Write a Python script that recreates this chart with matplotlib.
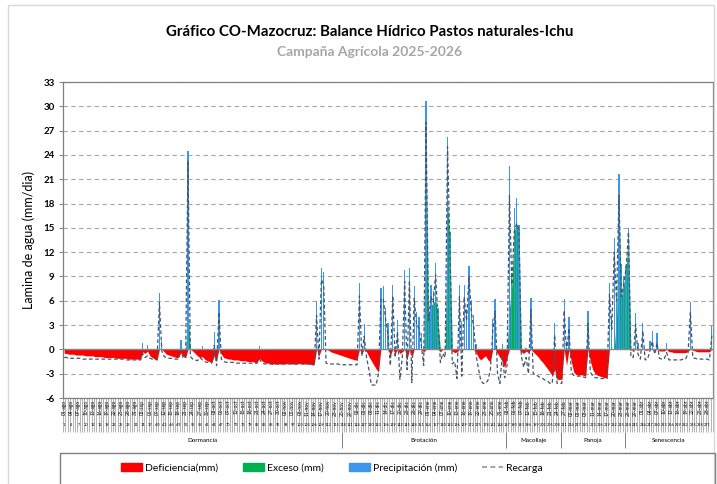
import numpy as np
import pandas as pd
import matplotlib
matplotlib.use('Agg')
import matplotlib.pyplot as plt
from matplotlib.patches import Patch, Rectangle
from matplotlib.lines import Line2D

plt.rcParams['font.family'] = ['Lato', 'DejaVu Sans']

# daily values, season 01-ago-2025 .. 30-abr-2026 (mm/dia)
precip_ago = [0] * 31
precip_sep = [0, 0, 0.8, 0, 0.5, 0, 0, 0, 0, 7.0, 1.0, 0, 0, 0, 0, 0, 0, 0, 1.2, 0,
              0, 24.5, 0, 0, 0, 0, 0, 0.4, 0, 0]
precip_oct = [0, 0, 2.1, 0, 6.1, 0, 0, 0, 0, 0, 0, 0, 0, 0, 0, 0, 0, 0, 0, 0,
              0, 0.4, 0, 0, 0, 0, 0, 0, 0, 0, 0]
precip_nov = [0, 0, 0, 0, 0, 0, 0, 0, 0, 0, 0, 0, 0, 0, 6.0, 0, 10.0, 9.6, 0, 0,
              0, 0, 0, 0, 0, 0, 0, 0, 0, 0]
precip_dic = [0, 0, 8.2, 0, 3.1, 0, 0, 0, 0, 0, 0, 7.6, 7.8, 5.1, 3.2, 0, 8.0, 0, 3.6, 0,
              0, 9.8, 0, 10.0, 0, 7.8, 4.6, 4.0, 2.0, 0, 30.6]
precip_ene = [5.0, 7.9, 7.2, 10.7, 5.1, 0, 0, 0, 26.2, 14.5, 0, 0, 0, 7.9, 3.5, 8.0, 5.0, 10.3, 6.1, 4.2,
              0.7, 0, 0, 0, 0, 0, 0, 3.7, 6.2, 0, 0]
precip_feb = [0.7, 0, 0, 22.6, 9.0, 17.4, 18.7, 15.3, 0, 0, 0.2, 0, 6.4, 0, 0, 0, 0, 0, 0, 0,
              0, 0, 3.2, 0, 0, 0, 6.2, 1.0]
precip_mar = [4.0, 0, 0, 0, 0, 0, 0, 0, 4.7, 0, 0, 0, 0, 0, 0, 0, 0, 8.2, 4.0, 13.8,
              7.0, 21.6, 10.5, 9.0, 10.3, 15.0, 0, 0, 4.5, 0.8, 0]
precip_abr = [3.3, 0, 0, 1.0, 2.3, 0, 2.0, 0, 0, 0, 0.8, 0, 0, 0, 0, 0, 0, 0, 0, 0,
              5.8, 0, 0, 0, 0, 0, 0, 0, 0, 2.9]

exceso_ago = [0] * 31
exceso_sep = [0] * 21 + [5.3] + [0] * 8
exceso_oct = [0] * 31
exceso_nov = [0] * 30
exceso_dic = [0] * 30 + [25.0]
exceso_ene = [4.5, 5.5, 5.6, 6.5, 3.5, 0, 0, 0, 18.5, 13.5] + [0] * 21
exceso_feb = [0, 0, 0, 5.0, 8.0, 14.5, 15.5, 15.2] + [0] * 20
exceso_mar = [0] * 20 + [4.0, 18.5, 6.5, 8.0, 10.0, 14.5] + [0] * 5
exceso_abr = [0] * 30

defic_ago = [-0.5, -0.5, -0.6, -0.6, -0.6, -0.7, -0.7, -0.7, -0.7, -0.8, -0.8, -0.8, -0.8, -0.9, -0.9, -0.9,
             -0.9, -1.0, -1.0, -1.0, -1.0, -1.0, -1.1, -1.1, -1.1, -1.1, -1.1, -1.2, -1.2, -1.2, -1.2]
defic_sep = [-1.2, -1.3, -0.3, -0.5, -0.2, -0.8, -1.0, -1.2, -1.3, 0, 0, -0.3, -0.6, -0.7, -0.8, -0.9,
             -1.0, -1.0, -0.4, -0.9, -1.0, 0, 0, -0.2, -0.5, -0.8, -1.0, -0.9, -1.2, -1.4]
defic_oct = [-1.5, -1.6, -0.8, -1.3, 0, -0.6, -1.0, -1.1, -1.2, -1.2, -1.3, -1.3, -1.3, -1.4, -1.4, -1.4,
             -1.5, -1.5, -1.5, -1.6, -1.6, -1.1, -1.4, -1.6, -1.7, -1.7, -1.8, -1.8, -1.8, -1.8, -1.8]
defic_nov = [-1.8, -1.8, -1.7, -1.8, -1.8, -1.8, -1.8, -1.7, -1.8, -1.8, -1.8, -1.8, -1.9, -1.8, 0, -0.8,
             0, 0, 0, -0.1, -0.3, -0.4, -0.5, -0.6, -0.7, -0.8, -0.9, -1.0, -1.1, -1.2]
defic_dic = [-1.3, -1.3, 0, -0.5, 0, -0.3, -0.9, -1.4, -1.9, -2.4, -2.8, 0, 0, 0, 0, -0.7,
             0, -0.5, 0, -0.5, -0.3, 0, -1.2, 0, -1.0, 0, 0, 0, 0, -0.3, 0]
defic_ene = [0, 0, 0, 0, 0, -0.3, 0, 0, 0, 0, -0.2, -0.4, -0.3, 0, 0, 0,
             0, 0, 0, 0, -0.4, -1.0, -1.3, -1.0, -0.8, -1.3, -1.5, 0, 0, -0.5, -1.0]
defic_feb = [-1.5, -2.3, -1.0, 0, 0, 0, 0, 0, -0.3, -0.5, -0.2, -0.4, 0, -0.3, -0.6, -0.9,
             -1.3, -1.6, -2.0, -2.4, -2.8, -3.3, -2.5, -3.7, -3.7, -3.7, 0, -2.0]
defic_mar = [0, -1.5, -2.8, -3.1, -3.2, -3.1, -3.2, -3.3, 0, -1.5, -2.5, -3.0, -3.2, -3.3, -3.4, -3.5,
             -3.5, 0, 0, 0, 0, 0, 0, 0, 0, 0, -0.1, -0.1, 0, -0.1, 0]
defic_abr = [0, -0.1, -0.1, 0, 0, -0.1, 0, -0.2, -0.2, -0.2, 0, -0.3, -0.3, -0.4, -0.4, -0.4,
             -0.4, -0.4, -0.4, -0.2, 0, -0.1, -0.2, -0.3, -0.3, -0.3, -0.3, -0.3, -0.3, 0]

recarga_ago = [-1.0, -1.0, -1.1, -1.1, -1.1, -1.1, -1.1, -1.1, -1.2, -1.2, -1.2, -1.2, -1.2, -1.2, -1.2, -1.2,
               -1.2, -1.2, -1.2, -1.2, -1.2, -1.2, -1.2, -1.2, -1.2, -1.2, -1.3, -1.3, -1.3, -1.3, -1.3]
recarga_sep = [-1.3, -1.3, -0.5, -1.0, -0.8, -1.1, -1.2, -1.2, -1.3, 5.8, -0.2, -0.9, -1.0, -1.1, -1.1, -1.2,
               -1.2, -1.2, 0.0, -1.1, -1.0, 23.3, -0.9, -1.2, -1.3, -1.4, -1.0, -1.3, -1.5, -1.6]
recarga_oct = [-1.6, -1.7, 0.5, -2.0, 4.6, -1.2, -1.5, -1.6, -1.6, -1.6, -1.6, -1.7, -1.7, -1.7, -1.7, -1.7,
               -1.7, -1.7, -1.7, -1.7, -1.7, -1.2, -1.6, -1.8, -1.8, -1.8, -1.8, -1.9, -1.8, -1.8, -1.8]
recarga_nov = [-1.8, -1.8, -1.8, -1.8, -1.8, -1.8, -1.8, -1.8, -1.8, -1.8, -1.8, -1.8, -1.9, -1.9, 4.2, -1.2,
               8.6, 8.0, -1.7, -1.8, -1.8, -1.8, -1.8, -1.8, -1.9, -1.9, -1.9, -1.9, -1.9, -1.9]
recarga_dic = [-1.9, -1.9, 6.6, -0.8, 1.6, -1.0, -2.5, -4.4, -4.4, -4.4, -3.0, 6.2, 6.3, 3.7, 1.8, -2.0,
               6.6, -1.0, 2.2, -3.7, -1.0, 8.4, -2.5, 8.5, -4.1, 6.3, 3.1, 2.6, 0.5, -2.0, 28.0]
recarga_ene = [3.5, 6.5, 5.8, 9.2, 3.6, -1.6, -0.5, -1.0, 25.0, 13.0, -1.8, -1.5, -3.6, 6.5, -3.3, 6.5,
               3.5, 9.0, 4.5, 2.8, -0.7, -2.4, -3.9, -4.2, -4.2, -3.8, -2.5, 2.3, 4.7, -3.0, -4.2]
recarga_feb = [-0.7, -3.5, -2.0, 19.0, 8.0, 14.5, 15.5, 14.8, -0.8, -2.2, -1.0, -3.0, 4.9, -3.0, -3.1, -3.3,
               -3.5, -3.6, -3.8, -3.9, -4.2, -4.2, 1.8, -4.2, -4.2, -4.2, 4.8, -0.5]
recarga_mar = [2.6, -2.8, -3.2, -3.3, -3.3, -3.3, -3.4, -3.5, 3.2, -2.8, -3.3, -3.5, -3.5, -3.6, -3.6, -3.6,
               -3.6, 6.8, 2.5, 12.0, 6.0, 19.0, 6.5, 8.0, 10.0, 14.5, -0.9, -1.0, 3.1, -0.6, -1.2]
recarga_abr = [2.3, -1.3, -1.2, -0.2, 1.0, -0.6, 0.8, -1.1, -1.2, -1.2, -0.4, -1.3, -1.3, -1.3, -1.3, -1.3,
               -1.3, -1.2, -1.2, -0.5, 4.6, -1.0, -1.1, -1.2, -1.2, -1.2, -1.2, -1.2, -1.3, 1.7]

meses = ['ago', 'sep', 'oct', 'nov', 'dic', 'ene', 'feb', 'mar', 'abr']
fases = ['Dormancia', 'Brotación', 'Macollaje', 'Panoja', 'Senescencia']
fase_limites = [0, 117, 186, 209, 236, 273]

precip = np.concatenate([precip_ago, precip_sep, precip_oct, precip_nov, precip_dic,
                         precip_ene, precip_feb, precip_mar, precip_abr])
exceso = np.concatenate([exceso_ago, exceso_sep, exceso_oct, exceso_nov, exceso_dic,
                         exceso_ene, exceso_feb, exceso_mar, exceso_abr])
defic = np.concatenate([defic_ago, defic_sep, defic_oct, defic_nov, defic_dic,
                        defic_ene, defic_feb, defic_mar, defic_abr])
recarga = np.concatenate([recarga_ago, recarga_sep, recarga_oct, recarga_nov, recarga_dic,
                          recarga_ene, recarga_feb, recarga_mar, recarga_abr])

fechas = pd.date_range('2025-08-01', periods=len(precip), freq='D')
x = np.arange(len(precip))

fig = plt.figure(figsize=(7.17, 4.84), dpi=100)
ax = fig.add_axes([63 / 717, 1 - 398 / 484, 650 / 717, 316 / 484])

# areas, bars and line
ax.fill_between(x, defic, 0, color='#FF0000', lw=0, zorder=2)
ax.fill_between(x, 0, exceso, color='#00B050', lw=0, zorder=2)
ax.bar(x, precip, width=0.55, color='#3C97EC', lw=0, zorder=3)
ax.plot(x, recarga, color='#44546A', lw=0.9, ls=(0, (3, 2)), zorder=4)

ax.set_xlim(-0.5, len(x) - 0.5)
ax.set_ylim(-6, 33)
ax.set_yticks(np.arange(-6, 34, 3))
ax.set_yticklabels([str(v) for v in range(-6, 34, 3)], fontsize=7, fontweight='bold')
ax.tick_params(axis='y', length=3, color='#888888', pad=3)
ax.set_xticks([])
ax.grid(axis='y', color='#A6A6A6', ls=(0, (4, 3)), lw=0.8, zorder=0)
ax.axhline(0, color='#888888', lw=1.0, zorder=5)
for s in ax.spines.values():
    s.set_color('#7F7F7F')
    s.set_linewidth(0.9)
ax.set_ylabel('Lamina de agua (mm/dia)', fontsize=9, labelpad=6)

# category axis with date, day number and phase levels
tr = ax.get_xaxis_transform()
ax.vlines(np.arange(len(x) + 1) - 0.5, -0.108, 0, transform=tr, color='#A6A6A6', lw=0.6, clip_on=False)
for i in range(0, len(x), 3):
    f = fechas[i]
    lab = '%02d-%s' % (f.day, meses[(f.month - 8) % 12])
    ax.text(i, -0.006, lab, transform=tr, rotation=90, ha='center', va='top', fontsize=3.5)
    ax.text(i, -0.086, str(i + 1), transform=tr, ha='center', va='center', fontsize=2.8)
for k, nombre in enumerate(fases):
    a, b = fase_limites[k], fase_limites[k + 1]
    ax.text((a + b) / 2 - 0.5, -0.133, nombre, transform=tr, ha='center', va='center', fontsize=4.5)
ax.vlines(np.array(fase_limites[1:-1]) - 0.5, -0.158, -0.108, transform=tr, color='#7F7F7F', lw=0.7,
          clip_on=False)

fig.text(0.515, 1 - 32 / 484, 'Gráfico CO-Mazocruz: Balance Hídrico Pastos naturales-Ichu',
         ha='center', va='center', fontsize=10.8, fontweight='bold')
fig.text(0.515, 1 - 52 / 484, 'Campaña Agrícola 2025-2026', ha='center', va='center',
         fontsize=10, fontweight='bold', color='#A6A6A6')

# outer frame and legend box
fig.patches.append(Rectangle((8 / 717, -0.01), 706 / 717, 1.0, transform=fig.transFigure,
                             fill=False, ec='#D9D9D9', lw=1))
fig.patches.append(Rectangle((60 / 717, -0.01), 655 / 717, 1 - 453 / 484 + 0.01, transform=fig.transFigure,
                             fill=False, ec='#7F7F7F', lw=1))
handles = [Patch(color='#FF0000'), Patch(color='#00B050'), Patch(color='#3C97EC'),
           Line2D([], [], color='#8497B0', ls=(0, (3, 2)), lw=1.2)]
labels = ['Deficiencia(mm)', 'Exceso (mm)', 'Precipitación (mm)', 'Recarga']
fig.legend(handles, labels, loc='center', bbox_to_anchor=(0.463, 1 - 468 / 484), ncol=4, frameon=False,
           fontsize=7.5, handlelength=2.0, handleheight=0.7, handletextpad=0.3, columnspacing=2.4)

fig.savefig('out.png', dpi=100)
